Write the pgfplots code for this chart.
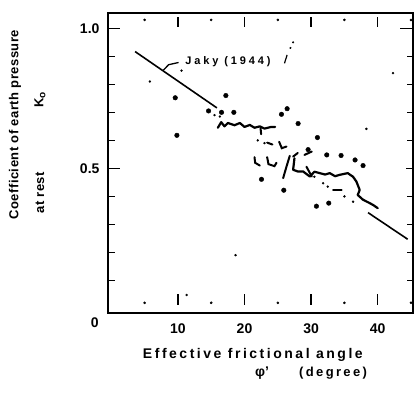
\documentclass[border=0pt]{standalone}
\usepackage{pgfplots}
\pgfplotsset{compat=1.18}
\usepackage{fontspec}
\setmainfont{Liberation Sans}
\newfontfamily\xlblfont{Liberation Sans}[LetterSpace=18]
\newfontfamily\ylblfont{Liberation Sans}[LetterSpace=4]
\newfontfamily\jfont{Liberation Sans}[LetterSpace=26]
\newcommand{\tickrect}[4]{\addplot[fill=black, draw=none] coordinates {(#1,#2) (#3,#2) (#3,#4) (#1,#4)};}
\begin{document}
\begin{tikzpicture}
\begin{axis}[
  scale only axis, width=305pt, height=300pt,
  xmin=-0.5, xmax=45.3, ymin=-0.016, ymax=1.055,
  axis line style={draw=none},
  tick style={draw=none},
  xtick={10,20,30,40}, xticklabels={10,20,30,40},
  ytick={0,0.5,1.0}, yticklabels={,0.5,1.0},
  major tick length=0pt, minor tick length=0pt,
  tick label style={font=\fontsize{14}{14}\selectfont\bfseries},
  xticklabel style={yshift=-7pt},
  yticklabel style={xshift=-5pt},
  clip=false,
]
\coordinate (bbA) at (rel axis cs:-0.354,-0.277);
\coordinate (bbB) at (rel axis cs:1.0197,1.043);

% frame as filled bars
\tickrect{-0.635}{-0.0192}{45.435}{-0.0128}
\tickrect{-0.635}{1.0518}{45.435}{1.0582}
\tickrect{-0.635}{-0.0192}{-0.365}{1.0582}
\tickrect{45.165}{-0.0192}{45.435}{1.0582}

% left ticks
\tickrect{-0.4}{0.0973}{0.55}{0.1027}
\tickrect{-0.4}{0.1973}{0.55}{0.2027}
\tickrect{-0.4}{0.2973}{0.55}{0.3027}
\tickrect{-0.4}{0.3973}{0.55}{0.4027}
\tickrect{-0.4}{0.4973}{1.30}{0.5027}
\tickrect{-0.4}{0.5973}{0.55}{0.6027}
\tickrect{-0.4}{0.6973}{0.55}{0.7027}
\tickrect{-0.4}{0.7973}{0.55}{0.8027}
\tickrect{-0.4}{0.8973}{0.55}{0.9027}
\tickrect{-0.4}{0.9973}{1.30}{1.0027}
% right ticks
\tickrect{44.4}{0.0973}{45.2}{0.1027}
\tickrect{44.4}{0.1973}{45.2}{0.2027}
\tickrect{44.4}{0.2973}{45.2}{0.3027}
\tickrect{44.4}{0.3973}{45.2}{0.4027}
\tickrect{44.3}{0.4973}{45.2}{0.5027}
\tickrect{44.4}{0.5973}{45.2}{0.6027}
\tickrect{44.4}{0.6973}{45.2}{0.7027}
\tickrect{44.4}{0.7973}{45.2}{0.8027}
\tickrect{44.4}{0.8973}{45.2}{0.9027}
\tickrect{43.35}{0.9973}{45.2}{1.0027}
% bottom and top major ticks
\tickrect{9.89}{0.012}{10.11}{0.05}
\tickrect{19.89}{0.012}{20.11}{0.05}
\tickrect{29.89}{0.012}{30.11}{0.05}
\tickrect{39.89}{0.012}{40.11}{0.05}
\tickrect{9.89}{1.003}{10.11}{1.039}
\tickrect{19.89}{1.003}{20.11}{1.039}
\tickrect{29.89}{1.003}{30.11}{1.039}
\tickrect{39.89}{1.003}{40.11}{1.039}
% minor tick dots
\addplot[only marks, mark=*, mark size=1.1pt] coordinates {
(5,0.02) (15,0.02) (25,0.02) (35,0.02) (45,0.02)
(5,1.03) (15,1.03) (25,1.03) (35,1.03) (45,1.03)};

% Jaky (1944) line
\addplot[line width=1.6pt] coordinates {(3.57,0.917) (15.85,0.716)};
\addplot[line width=1.6pt] coordinates {(38.55,0.342) (44.5,0.247)};
\addplot[line width=1.3pt] coordinates {(7.8,0.850) (8.6,0.870) (10.1,0.878)};
\node[anchor=west, font=\jfont\bfseries\fontsize{11}{11}\selectfont] at (axis cs:10.6,0.882) {Jaky (1944)};

% slash mark
\addplot[line width=1.2pt] coordinates {(26.0,0.875) (26.4,0.905)};
\addplot[only marks, mark=*, mark size=0.8pt] coordinates {(26.9,0.93) (27.3,0.95)};

% large data dots
\addplot[only marks, mark=*, mark size=2.3pt] coordinates {
(9.6,0.752) (9.85,0.618) (17.2,0.76) (14.6,0.705) (16.55,0.70) (18.4,0.70)
(25.55,0.693) (26.4,0.713) (28.05,0.66) (30.95,0.61) (22.55,0.461) (25.9,0.422)
(30.8,0.365) (32.65,0.376) (32.35,0.548) (34.5,0.546) (36.6,0.53) (37.8,0.51)
(29.55,0.567)
};

% small dots
\addplot[only marks, mark=*, mark size=1pt] coordinates {
(32.5,0.435) (31.8,0.447) (35.0,0.40) (36.3,0.381) (30.5,0.47) (5.8,0.81)
(10.55,0.849) (42.3,0.84) (38.3,0.641) (18.65,0.19) (11.3,0.048) (22.0,0.60)
(23.0,0.59) (16.3,0.685) (15.5,0.69)
};

% dense data traces
\addplot[line width=2.2pt, line join=round, line cap=round] coordinates {
(16.0,0.645) (16.5,0.665) (17.0,0.650) (17.5,0.662) (18.5,0.654) (19.3,0.662)
(20.0,0.648) (20.8,0.655) (21.5,0.645) (22.3,0.650) (23.0,0.642) (24.0,0.648) (24.6,0.648)};
\addplot[line width=2pt, line cap=round] coordinates {(22.4,0.645) (22.5,0.622)};
\addplot[line width=2pt, line cap=round] coordinates {(23.4,0.592) (24.2,0.585)};
\addplot[line width=2pt, line cap=round] coordinates {(25.2,0.595) (25.6,0.572) (26.3,0.578)};
\addplot[line width=2pt, line cap=round] coordinates {(21.5,0.54) (21.6,0.52) (22.3,0.51)};
\addplot[line width=2pt, line cap=round] coordinates {(23.4,0.54) (23.6,0.515) (24.5,0.508) (24.8,0.52)};
\addplot[line width=2pt, line cap=round, line join=round] coordinates {(26.8,0.545) (26.3,0.506) (25.8,0.465)};
\addplot[line width=2.2pt, line cap=round, line join=round] coordinates {
(27.5,0.536) (27.3,0.495) (28.0,0.489) (28.8,0.489) (29.8,0.471) (30.5,0.488) (31.3,0.483)
(32.1,0.478) (32.8,0.483) (33.6,0.472) (34.3,0.477) (35.5,0.483) (36.3,0.47) (36.8,0.453)
(37.3,0.423) (37.0,0.405) (37.8,0.388) (38.8,0.376) (39.4,0.368) (40.0,0.358)};
\addplot[line width=2pt, line cap=round] coordinates {(29.0,0.548) (30.1,0.56)};
\addplot[line width=2pt, line cap=round] coordinates {(29.3,0.506) (30.1,0.471)};
\addplot[line width=2pt, line cap=round] coordinates {(33.3,0.423) (34.6,0.423)};
\addplot[line width=2pt, line cap=round] coordinates {(27.3,0.542) (28.0,0.555)};

% axis labels
\node[font=\fontsize{14}{14}\selectfont\bfseries] at (rel axis cs:-0.043,-0.033) {0};
\node[rotate=90, font=\ylblfont\bfseries\fontsize{13}{13}\selectfont] at (rel axis cs:-0.305,0.627) {Coefficient of earth pressure};
\node[rotate=90, font=\ylblfont\bfseries\fontsize{13}{13}\selectfont] at (rel axis cs:-0.223,0.40) {at rest};
\node[rotate=90, font=\ylblfont\bfseries\fontsize{13}{13}\selectfont] at (rel axis cs:-0.223,0.71) {K\raisebox{-0.3ex}{\fontsize{10}{10}\selectfont o}};
\node[font=\xlblfont\bfseries\fontsize{14}{14}\selectfont] at (rel axis cs:0.475,-0.14) {Effective frictional angle};
\node[font=\bfseries\fontsize{14}{14}\selectfont] at (rel axis cs:0.505,-0.20) {φ'};
\node[font=\xlblfont\bfseries\fontsize{13}{13}\selectfont] at (rel axis cs:0.738,-0.20) {(degree)};
\end{axis}
\path (bbA) rectangle (bbB);
\end{tikzpicture}
\end{document}
